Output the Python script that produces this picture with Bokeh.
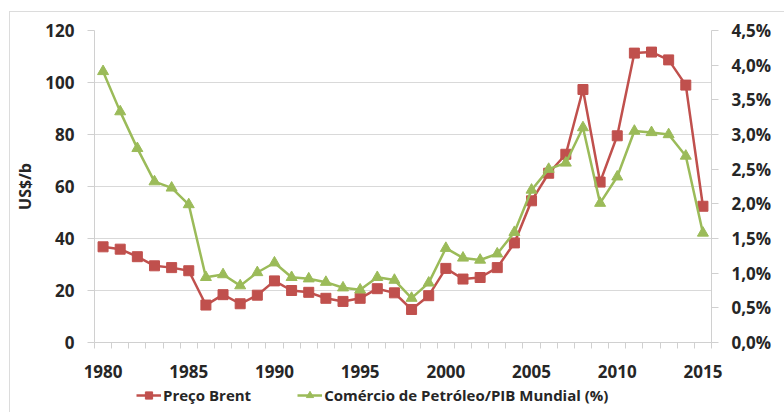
from bokeh.plotting import figure
from bokeh.layouts import column
from bokeh.models import (LinearAxis, Range1d, FixedTicker, CustomJSTickFormatter,
                          Legend, LegendItem, ColumnDataSource)
from bokeh.embed import file_html
from bokeh.resources import INLINE

# Annual series, 1980-2015
years = list(range(1980, 2016))
brent = [36.8, 35.9, 33.0, 29.5, 28.8, 27.6, 14.4, 18.4, 14.9, 18.2,
         23.7, 20.0, 19.3, 17.0, 15.8, 17.0, 20.7, 19.1, 12.7, 18.0,
         28.5, 24.4, 25.0, 28.8, 38.3, 54.5, 65.1, 72.4, 97.3, 61.7,
         79.5, 111.3, 111.7, 108.7, 99.0, 52.4]
oil_trade_gdp = [3.91, 3.33, 2.80, 2.32, 2.23, 1.99, 0.94, 0.98, 0.82, 1.01,
                 1.15, 0.94, 0.92, 0.87, 0.79, 0.76, 0.94, 0.90, 0.64, 0.86,
                 1.36, 1.22, 1.19, 1.28, 1.59, 2.20, 2.50, 2.59, 3.10, 2.01,
                 2.39, 3.05, 3.03, 3.00, 2.69, 1.58]

left_ticks = [0, 20, 40, 60, 80, 100, 120]
right_ticks = [0.0, 0.5, 1.0, 1.5, 2.0, 2.5, 3.0, 3.5, 4.0, 4.5]
year_labels = [1980, 1985, 1990, 1995, 2000, 2005, 2010, 2015]
series_names = ["Preço Brent", "Comércio de Petróleo/PIB Mundial (%)"]

RED = "#C0504D"
GREEN = "#9BBB59"
AXIS_GREY = "#d0d0d0"
FRAME_GREY = "#dcdcdc"
TEXT = "#262626"
FONT = "Open Sans"

src = ColumnDataSource(dict(year=years, brent=brent, pct=oil_trade_gdp))

p = figure(width=775, height=373, output_backend="svg", toolbar_location=None,
           x_range=Range1d(1979.5, 2015.5), y_range=Range1d(0, 120),
           min_border_left=84, min_border_right=74, min_border_top=18,
           min_border_bottom=43, outline_line_color=None,
           margin=(11, 0, 0, 9),
           styles={"border-top": f"1px solid {FRAME_GREY}",
                   "border-left": f"1px solid {FRAME_GREY}"})
p.extra_y_ranges = {"pct": Range1d(0, 4.5)}

# Gridlines on the left-axis levels only
p.xgrid.visible = False
p.ygrid.grid_line_color = "#d9d9d9"
p.ygrid.grid_line_width = 1

# Bottom axis: ticks at year boundaries, labels every five years
xa = p.xaxis[0]
xa.ticker = FixedTicker(ticks=year_labels, minor_ticks=[y - 0.5 for y in years] + [2015.5])
xa.major_tick_out = 0
xa.major_tick_in = 0
xa.minor_tick_out = 6
xa.minor_tick_in = 0
xa.minor_tick_line_color = AXIS_GREY
xa.axis_line_color = AXIS_GREY
xa.major_label_standoff = 16

# Left axis
ya = p.yaxis[0]
ya.ticker = FixedTicker(ticks=left_ticks)
ya.axis_label = "US$/b"
ya.axis_label_standoff = 6

# Right axis (percent, comma decimal)
ra = LinearAxis(y_range_name="pct", ticker=FixedTicker(ticks=right_ticks),
                formatter=CustomJSTickFormatter(code="return tick.toFixed(1).replace('.', ',') + '%';"))
p.add_layout(ra, "right")

for ax in (ya, ra):
    ax.axis_line_color = AXIS_GREY
    ax.major_tick_line_color = AXIS_GREY
    ax.major_tick_out = 7
    ax.major_tick_in = 0
    ax.minor_tick_line_color = None
    ax.major_label_standoff = 13

for ax in (xa, ya, ra):
    ax.major_label_text_font = FONT
    ax.major_label_text_font_style = "bold"
    ax.major_label_text_font_size = "17px"
    ax.major_label_text_color = TEXT
ya.axis_label_text_font = FONT
ya.axis_label_text_font_style = "bold"
ya.axis_label_text_font_size = "16px"
ya.axis_label_text_color = TEXT

# Series
line_style = dict(line_width=2.5)
p.line("year", "brent", source=src, color=RED, **line_style)
p.scatter("year", "brent", source=src, marker="square", size=10, color=RED)
p.line("year", "pct", source=src, y_range_name="pct", color=GREEN, **line_style)
p.scatter("year", "pct", source=src, y_range_name="pct", marker="triangle", size=11, color=GREEN)

# Legend strip under the chart, with sample glyphs in the series styles
lg = figure(width=775, height=28, output_backend="svg", toolbar_location=None,
            x_range=Range1d(0, 1), y_range=Range1d(0, 1),
            min_border=0, outline_line_color=None, margin=(0, 0, 0, 9),
            styles={"border-left": f"1px solid {FRAME_GREY}"})
lg.axis.visible = False
lg.grid.visible = False
empty = ColumnDataSource(dict(x=[float("nan")], y=[float("nan")]))
k_line = lg.line("x", "y", source=empty, color=RED, **line_style)
k_sq = lg.scatter("x", "y", source=empty, marker="square", size=10, color=RED)
c_line = lg.line("x", "y", source=empty, color=GREEN, **line_style)
c_tri = lg.scatter("x", "y", source=empty, marker="triangle", size=11, color=GREEN)

legend = Legend(items=[LegendItem(label=series_names[0], renderers=[k_line, k_sq]),
                       LegendItem(label=series_names[1], renderers=[c_line, c_tri])],
                orientation="horizontal", location=(42, 7),
                padding=0, margin=0, spacing=46, glyph_width=25, glyph_height=18,
                label_standoff=2, border_line_color=None, background_fill_alpha=0,
                label_text_font=FONT, label_text_font_style="bold",
                label_text_font_size="15px", label_text_color=TEXT)
lg.add_layout(legend, "center")

layout = column(p, lg, spacing=0)
open("out.html", "w").write(file_html(layout, INLINE))
